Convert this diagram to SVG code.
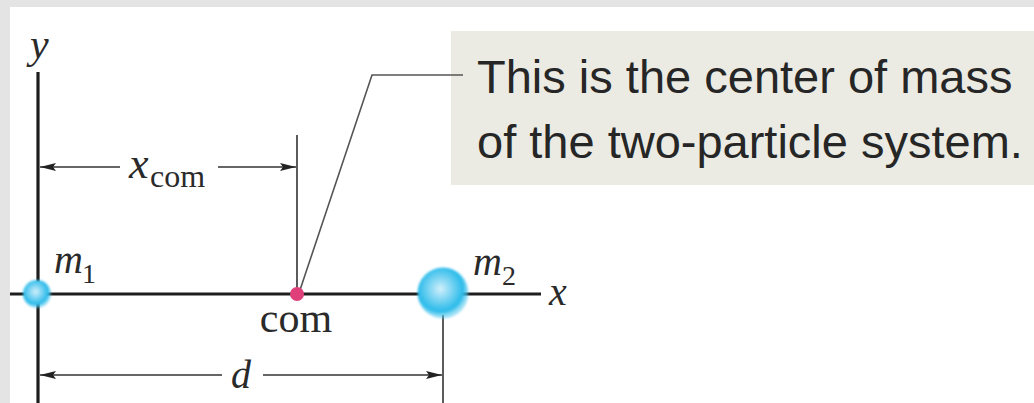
<svg xmlns="http://www.w3.org/2000/svg" width="1034" height="403" viewBox="0 0 1034 403">
  <style>
    .axis { stroke: #1e1e1e; stroke-width: 3.2; fill: none; }
    .thin { stroke: #333; stroke-width: 1.6; fill: none; }
    .leader { stroke: #555; stroke-width: 1.6; fill: none; }
    .math { font-family: "Liberation Serif", "DejaVu Serif", serif; font-style: italic; fill: #2a2a2a; }
    .roman { font-family: "Liberation Serif", "DejaVu Serif", serif; fill: #2a2a2a; }
    .callout { font-family: "Liberation Sans", Arial, sans-serif; font-size: 47px; fill: #262626; }
  </style>
  <defs>
    <radialGradient id="ball" cx="0.45" cy="0.42" r="0.55">
      <stop offset="0" stop-color="#d2effb"/>
      <stop offset="0.4" stop-color="#7dd5f3"/>
      <stop offset="0.8" stop-color="#2bbbea"/>
      <stop offset="1" stop-color="#4cc6ee" stop-opacity="0.5"/>
    </radialGradient>
    <filter id="soft" x="-20%" y="-20%" width="140%" height="140%">
      <feGaussianBlur stdDeviation="0.8"/>
    </filter>
    <marker id="arr" viewBox="0 0 16 10" refX="16" refY="5" markerWidth="16" markerHeight="10" markerUnits="userSpaceOnUse" orient="auto-start-reverse">
      <path d="M0,1 L16,5 L0,9 L3,5 Z" fill="#222"/>
    </marker>
  </defs>

  <!-- background -->
  <rect x="0" y="0" width="1034" height="403" fill="#e4e4e4"/>
  <rect x="10" y="7" width="1024" height="396" fill="#ffffff"/>

  <!-- callout box -->
  <g id="callout">
    <rect x="451" y="31" width="583" height="154" fill="#ebebe3"/>
    <text class="callout" x="477" y="93">This is the center of mass</text>
    <text class="callout" x="477" y="158">of the two-particle system.</text>
  </g>

  <!-- connectors / dimension lines -->
  <g id="connectors">
    <line class="axis" x1="38" y1="72" x2="38" y2="403"/>
    <line class="axis" x1="10" y1="294" x2="541" y2="294"/>
    <line class="thin" x1="297" y1="135" x2="297" y2="294"/>
    <line class="thin" x1="443" y1="315" x2="443" y2="403"/>
    <line class="thin" x1="120" y1="167" x2="40" y2="167" marker-end="url(#arr)"/>
    <line class="thin" x1="218" y1="167" x2="296" y2="167" marker-end="url(#arr)"/>
    <line class="thin" x1="222" y1="375" x2="40" y2="375" marker-end="url(#arr)"/>
    <line class="thin" x1="263" y1="375" x2="442" y2="375" marker-end="url(#arr)"/>
    <polyline class="leader" points="300,290 372,75 463,75"/>
  </g>

  <g id="axis-labels">
    <text class="math" x="30" y="58" font-size="42">y</text>
    <text class="math" x="549" y="305" font-size="40">x</text>
  </g>

  <g id="m1">
    <circle cx="37" cy="294" r="14" fill="url(#ball)" filter="url(#soft)"/>
    <text class="math" x="54" y="273" font-size="40">m</text>
    <text class="roman" x="82" y="283" font-size="28">1</text>
  </g>

  <g id="m2">
    <circle cx="443" cy="293" r="25.5" fill="url(#ball)" filter="url(#soft)"/>
    <text class="math" x="473" y="275" font-size="40">m</text>
    <text class="roman" x="502" y="285" font-size="28">2</text>
  </g>

  <g id="com">
    <circle cx="297" cy="294" r="7" fill="#e0407a"/>
    <text class="roman" x="296" y="332" font-size="42" text-anchor="middle">com</text>
  </g>

  <g id="xcom-label">
    <text class="math" x="129" y="178" font-size="44">x</text>
    <text class="roman" x="150" y="187" font-size="32">com</text>
  </g>

  <g id="d-label">
    <text class="math" x="231" y="388" font-size="40">d</text>
  </g>
</svg>
